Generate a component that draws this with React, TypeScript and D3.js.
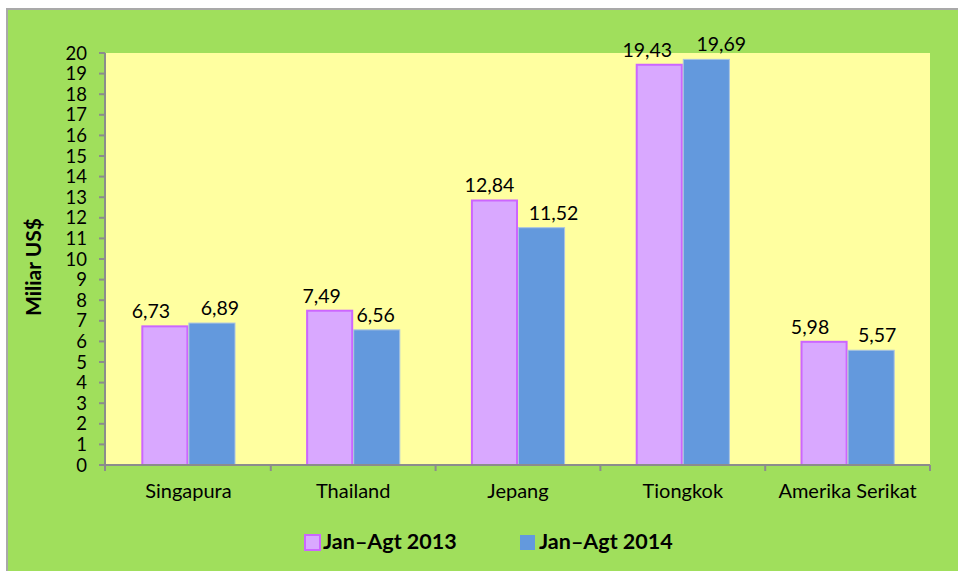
import React from 'react';
import * as d3 from 'd3';

// negara tujuan ekspor
const categories = ['Singapura', 'Thailand', 'Jepang', 'Tiongkok', 'Amerika Serikat'];
const seriesNames = ['Jan\u2013Agt 2013', 'Jan\u2013Agt 2014'];
const values2013 = [6.73, 7.49, 12.84, 19.43, 5.98];
const values2014 = [6.89, 6.56, 11.52, 19.69, 5.57];
const yTicks = d3.range(0, 21);

const W = 958;
const H = 571;
const margin = { left: 106, top: 53, right: 28, bottom: 106 };
const font = 'Lato, "Open Sans", sans-serif';

const fills = ['#D9A8FF', '#6399DD'];
const strokes = ['#CC66FF', '#A9C3E2'];
// labels were moved by hand in the original, keep the same nudges
const labelNudge = [[-14, -8, -5, -12, -14], [8, -1, 12, 15, 6]];
const fmt = (v: number) => v.toFixed(2).replace('.', ',');

export default function App() {
  const x0 = d3.scaleBand<string>()
    .domain(categories)
    .range([margin.left, W - margin.right])
    .padding(0);
  const x1 = d3.scaleBand<string>()
    .domain(seriesNames)
    .range([0, x0.bandwidth()])
    .paddingInner(0)
    .paddingOuter(0.75);
  const y = d3.scaleLinear().domain([0, 20]).range([H - margin.bottom, margin.top]);

  const series = [values2013, values2014];
  const bottom = y(0);

  return (
    <div style={{ position: 'fixed', left: 0, top: 0 }}>
      <svg width={W} height={H} style={{ display: 'block' }}>
        <rect x={0} y={0} width={W} height={H} fill="#fff" />
        <rect x={6} y={8} width={W - 6} height={H - 8} fill="#A9A9A9" />
        <rect x={8} y={10} width={W - 8} height={H - 10} fill="#A0DF5C" />
        <rect x={margin.left} y={margin.top} width={W - margin.right - margin.left}
          height={bottom - margin.top} fill="#FFFFA0" />

        {/* bars */}
        {categories.map((c, i) => (
          <g key={c} transform={`translate(${x0(c)},0)`}>
            {series.map((vals, s) => {
              const bx = x1(seriesNames[s])!;
              const bw = x1.bandwidth();
              const top = y(vals[i]);
              return (
                <g key={s}>
                  <rect x={bx + (s === 0 ? 1 : 0.5)} y={top} width={bw - (s === 0 ? 2 : 1)}
                    height={bottom - top} fill={fills[s]} stroke={strokes[s]}
                    strokeWidth={s === 0 ? 2 : 1} />
                  <text x={bx + bw / 2 + labelNudge[s][i]} y={top - 8} textAnchor="middle"
                    fontFamily={font} fontSize={19.5} fill="#000">{fmt(vals[i])}</text>
                </g>
              );
            })}
          </g>
        ))}

        {/* y axis */}
        <line x1={margin.left - 1} x2={margin.left - 1} y1={margin.top} y2={bottom + 1}
          stroke="#8C8C8C" strokeWidth={2} />
        {yTicks.map(t => (
          <g key={t}>
            <line x1={99} x2={margin.left - 1} y1={y(t)} y2={y(t)} stroke="#8C8C8C" strokeWidth={2} />
            <text x={87} y={y(t)} dy="0.36em" textAnchor="end" fontFamily={font}
              fontSize={18.5} fill="#000">{t}</text>
          </g>
        ))}

        {/* x axis */}
        <line x1={margin.left - 2} x2={W - margin.right} y1={bottom} y2={bottom}
          stroke="#8C8C8C" strokeWidth={2} />
        {categories.map((c, i) => (
          <line key={'t' + c} x1={x0(c)! + (i === 0 ? -1 : 0)} x2={x0(c)! + (i === 0 ? -1 : 0)}
            y1={bottom} y2={bottom + 6} stroke="#8C8C8C" strokeWidth={2} />
        ))}
        <line x1={W - margin.right} x2={W - margin.right} y1={bottom} y2={bottom + 6}
          stroke="#8C8C8C" strokeWidth={2} />
        {categories.map(c => (
          <text key={'l' + c} x={x0(c)! + x0.bandwidth() / 2} y={498} textAnchor="middle"
            fontFamily={font} fontSize={20} fill="#000">{c}</text>
        ))}

        {/* y title */}
        <text transform="translate(41,267) rotate(-90)" textAnchor="middle" fontFamily={font}
          fontSize={21} fontWeight="bold" fill="#000">Miliar US$</text>

        {/* legend */}
        <rect x={305} y={535} width={15} height={15} fill={fills[0]} stroke={strokes[0]} strokeWidth={2} />
        <text x={323} y={549} fontFamily={font} fontSize={21.5} fontWeight="bold" fill="#000">{seriesNames[0]}</text>
        <rect x={520} y={535} width={15} height={15} fill={fills[1]} />
        <text x={539} y={549} fontFamily={font} fontSize={21.5} fontWeight="bold" fill="#000">{seriesNames[1]}</text>
      </svg>
    </div>
  );
}
